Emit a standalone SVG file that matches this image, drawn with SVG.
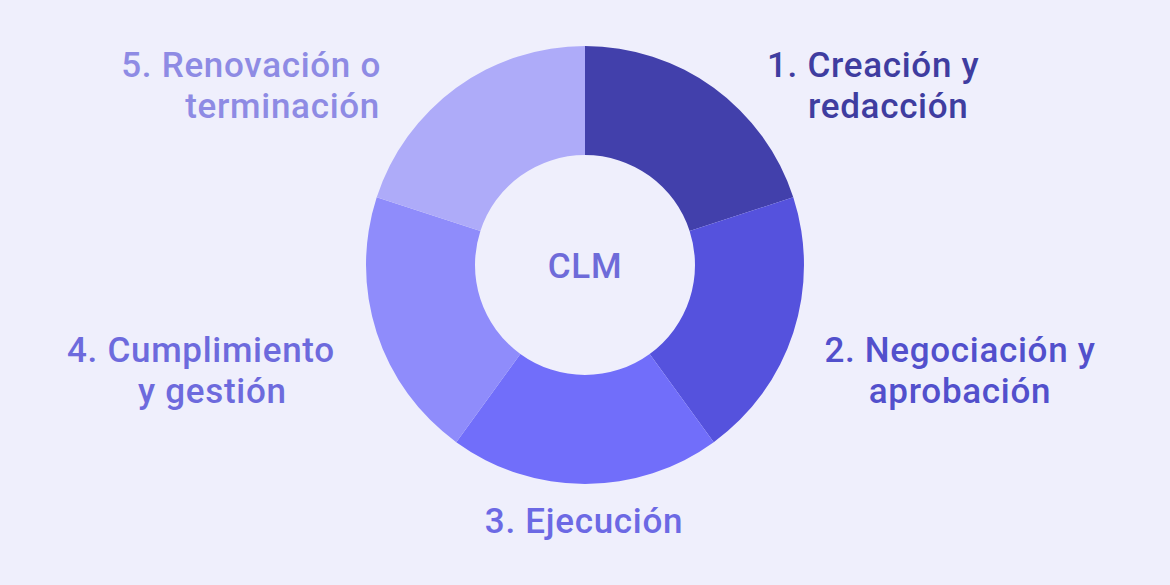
<svg xmlns="http://www.w3.org/2000/svg" width="1170" height="585" viewBox="0 0 1170 585">
<style>
.lbl{font-family:Roboto,"Noto Sans","Liberation Sans",sans-serif;font-size:35px;font-weight:500;letter-spacing:0.7px}
</style>
<rect width="1170" height="585" fill="#EFEFFC"/>
<g id="connectors"></g>
<g id="seg1"><path d="M585 46 A219 219 0 0 1 793.28 197.33 L689.62 231.01 A110 110 0 0 0 585 155 Z" fill="#4240AB"/>
<text class="lbl" x="767" y="77" fill="#3F3DA0">1. Creación y</text>
<text class="lbl" x="808" y="118" fill="#3F3DA0">redacción</text></g>
<g id="seg2"><path d="M793.28 197.33 A219 219 0 0 1 713.73 442.17 L649.66 353.99 A110 110 0 0 0 689.62 231.01 Z" fill="#5552DD"/>
<text class="lbl" x="960" y="362" text-anchor="middle" fill="#5250CC">2. Negociación y</text>
<text class="lbl" x="960" y="403" text-anchor="middle" fill="#5250CC">aprobación</text></g>
<g id="seg3"><path d="M713.73 442.17 A219 219 0 0 1 456.27 442.17 L520.34 353.99 A110 110 0 0 0 649.66 353.99 Z" fill="#716EFA"/>
<text class="lbl" x="584" y="533" text-anchor="middle" fill="#6C69E4">3. Ejecución</text></g>
<g id="seg4"><path d="M456.27 442.17 A219 219 0 0 1 376.72 197.33 L480.38 231.01 A110 110 0 0 0 520.34 353.99 Z" fill="#8F8CFB"/>
<text class="lbl" x="67" y="362" fill="#6D6ADD">4. Cumplimiento</text>
<text class="lbl" x="138" y="403" fill="#6D6ADD">y gestión</text></g>
<g id="seg5"><path d="M376.72 197.33 A219 219 0 0 1 585 46 L585 155 A110 110 0 0 0 480.38 231.01 Z" fill="#AEABF9"/>
<text class="lbl" x="381" y="77" text-anchor="end" fill="#8E8BE4">5. Renovación o</text>
<text class="lbl" x="380" y="118" text-anchor="end" fill="#8E8BE4">terminación</text></g>
<g id="center"><text class="lbl" x="585" y="278" text-anchor="middle" font-size="41" letter-spacing="2" fill="#6E6BD9">CLM</text></g>
</svg>
